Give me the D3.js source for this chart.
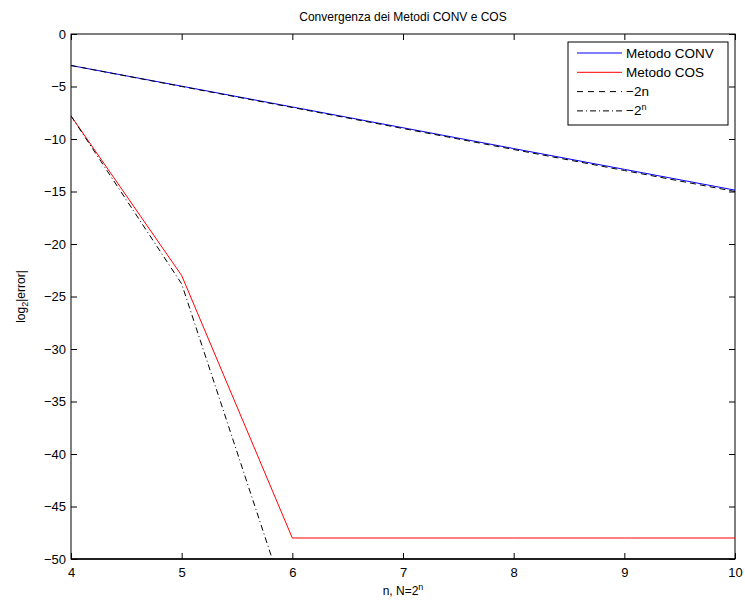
<!DOCTYPE html>
<html><head><meta charset="utf-8">
<script src="https://cdn.jsdelivr.net/npm/d3@7"></script>
<style>body{margin:0;background:#fff}svg text{font-family:"Liberation Sans",Arial,sans-serif}</style>
</head><body><svg id="c" width="745" height="605"></svg>
<script>
const nValues = [4,5,6,7,8,9,10];
const convErr = [-3,-4.97,-6.95,-8.93,-10.91,-12.89,-14.87];
const cosErr = [-7.8,-23,-48,-48,-48,-48,-48];
const refLinear = [-3,-5,-7,-9,-11,-13,-15];
const refExp = [-7.8,-23.8,-55.8,-119.8,-247.8,-503.8,-1015.8];
const xTicks = [4,5,6,7,8,9,10];
const yTicks = [0,-5,-10,-15,-20,-25,-30,-35,-40,-45,-50];

const L=71,R=735,T=34,B=559;
const svg=d3.select("#c");
const x=d3.scaleLinear().domain([4,10]).range([L,R]);
const y=d3.scaleLinear().domain([-50,0]).range([B,T]);

svg.append("defs").append("clipPath").attr("id","clip").append("rect")
  .attr("x",L).attr("y",T).attr("width",R-L).attr("height",B-T);

const tl=6;
const gB=svg.append("g").attr("transform",`translate(0,${B})`)
  .call(d3.axisBottom(x).tickValues(xTicks).tickSize(-tl).tickPadding(9).tickFormat(d3.format("d")));
const gT=svg.append("g").attr("transform",`translate(0,${T})`)
  .call(d3.axisTop(x).tickValues(xTicks).tickSize(-tl).tickFormat(""));
const gL=svg.append("g").attr("transform",`translate(${L},0)`)
  .call(d3.axisLeft(y).tickValues(yTicks).tickSize(-tl).tickPadding(5).tickFormat(d=>d<0?"\u2212"+(-d):d));
const gR=svg.append("g").attr("transform",`translate(${R},0)`)
  .call(d3.axisRight(y).tickValues(yTicks).tickSize(-tl).tickFormat(""));
[gB,gT,gL,gR].forEach(g=>{
  g.select(".domain").remove();
  g.selectAll("line").attr("stroke","#000").attr("stroke-width",1);
  g.selectAll("text").attr("font-size",13).attr("fill","#000");
});
svg.append("rect").attr("x",L).attr("y",T).attr("width",R-L).attr("height",B-T)
  .attr("fill","none").attr("stroke","#000").attr("stroke-width",1);
svg.append("line").attr("x1",L).attr("x2",R).attr("y1",B).attr("y2",B).attr("stroke","#000").attr("stroke-width",1.6);

const line=d3.line().x((d,i)=>x(nValues[i])).y(d=>y(d));
const plot=svg.append("g").attr("clip-path","url(#clip)");
plot.append("path").datum(convErr).attr("d",line).attr("fill","none").attr("stroke","#0000ff").attr("stroke-width",1);
plot.append("path").datum(cosErr).attr("d",line).attr("fill","none").attr("stroke","#ff0000").attr("stroke-width",1);
plot.append("path").datum(refLinear).attr("d",line).attr("fill","none").attr("stroke","#000").attr("stroke-width",1).attr("stroke-dasharray","6,4");
plot.append("path").datum(refExp).attr("d",line).attr("fill","none").attr("stroke","#000").attr("stroke-width",1).attr("stroke-dasharray","6,3,1,3");

svg.append("text").attr("x",(L+R)/2).attr("y",21).attr("text-anchor","middle").attr("font-size",12).text("Convergenza dei Metodi CONV e COS");
const xl=svg.append("text").attr("x",(L+R)/2).attr("y",595).attr("text-anchor","middle").attr("font-size",12);
xl.append("tspan").text("n, N=2");
xl.append("tspan").attr("dy",-5).attr("font-size",9).text("n");
const yl=svg.append("text").attr("transform",`translate(25,${(T+B)/2}) rotate(-90)`).attr("text-anchor","middle").attr("font-size",12);
yl.append("tspan").text("log");
yl.append("tspan").attr("dy",3).attr("font-size",9).text("2");
yl.append("tspan").attr("dy",-3).text("|error|");

const leg=svg.append("g");
leg.append("rect").attr("x",568).attr("y",42).attr("width",160).attr("height",83).attr("fill","#fff").attr("stroke","#000").attr("stroke-width",1);
const legItems=[
 {label:"Metodo CONV",color:"#0000ff",dash:null},
 {label:"Metodo COS",color:"#ff0000",dash:null},
 {label:"\u22122n",color:"#000",dash:"6,5"},
 {label:"\u22122",sup:"n",color:"#000",dash:"6,3,1,3"}
];
legItems.forEach((d,i)=>{
  const yy=53+i*19.3;
  leg.append("line").attr("x1",577).attr("x2",622).attr("y1",yy).attr("y2",yy).attr("stroke",d.color).attr("stroke-width",1).attr("stroke-dasharray",d.dash);
  const t=leg.append("text").attr("x",626).attr("y",yy+4.5).attr("font-size",13.5);
  t.append("tspan").text(d.label);
  if(d.sup) t.append("tspan").attr("dy",-5).attr("font-size",9).text(d.sup);
});
</script></body></html>
